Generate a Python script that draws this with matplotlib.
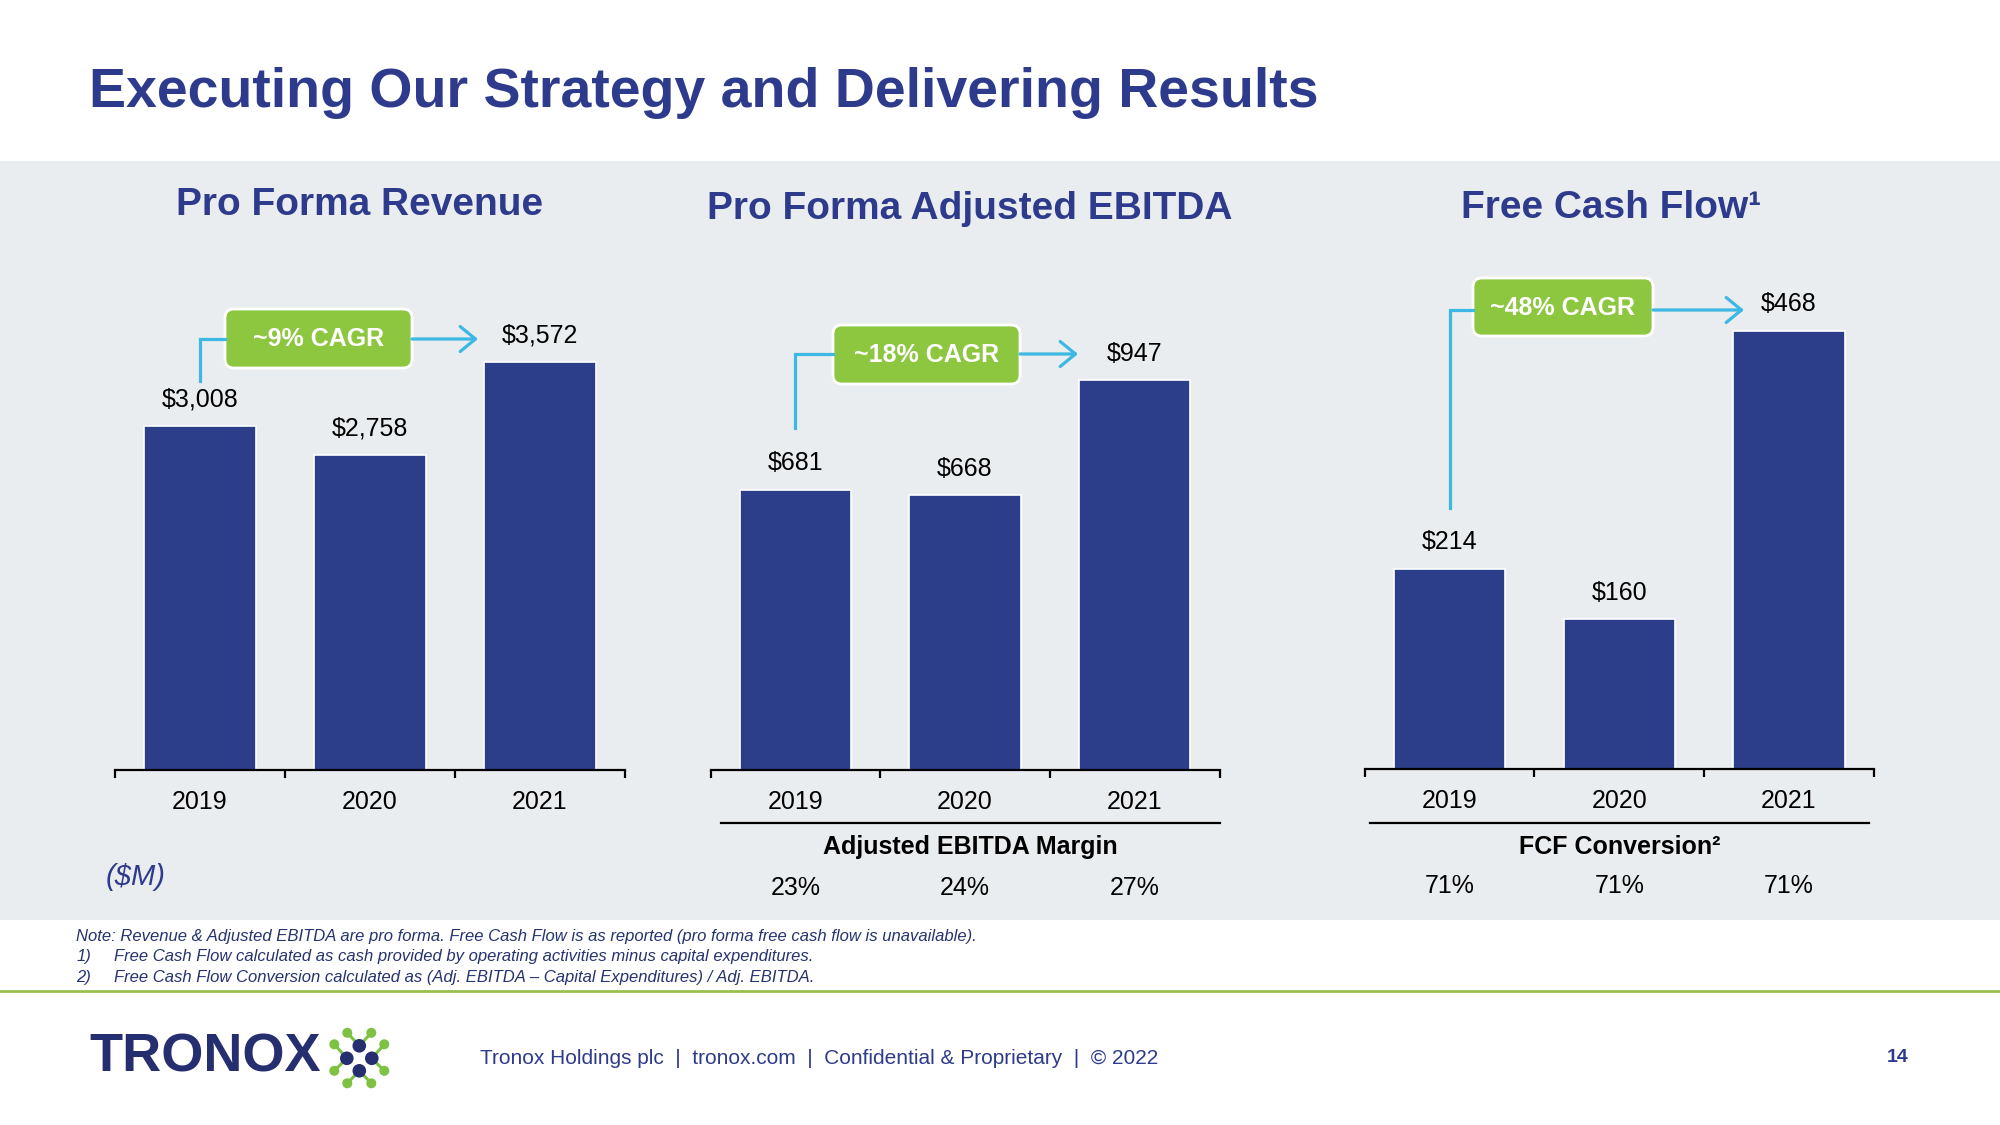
import matplotlib
matplotlib.use("Agg")
import matplotlib.pyplot as plt
from matplotlib.patches import Rectangle, FancyBboxPatch, Circle

plt.rcParams["font.family"] = ["Liberation Sans", "DejaVu Sans"]

# data
years = ["2019", "2020", "2021"]
revenue = [3008, 2758, 3572]
ebitda = [681, 668, 947]
fcf = [214, 160, 468]
ebitda_margin = ["23%", "24%", "27%"]
fcf_conversion = ["71%", "71%", "71%"]
cagr_labels = ["~9% CAGR", "~18% CAGR", "~48% CAGR"]
panel_titles = ["Pro Forma Revenue", "Pro Forma Adjusted EBITDA", "Free Cash Flow\u00b9"]

NAVY = "#2C3E8A"
TITLE = "#2E3B8C"
GREEN = "#8DC63F"
CYAN = "#3DB7E4"
GRAY = "#EAEDEF"

W, H = 2000, 1125
fig = plt.figure(figsize=(20, 11.25), dpi=100)

# background / overlay axes in pixel coordinates
bg = fig.add_axes([0, 0, 1, 1], zorder=0)
bg.set_xlim(0, W)
bg.set_ylim(H, 0)
bg.axis("off")
bg.add_patch(Rectangle((0, 161), W, 759, color=GRAY, lw=0))
bg.plot([0, W], [991, 991], color="#99BF4C", lw=2)

# panel axes: left px, width px, baseline px, ylim top
panels = [
    (114.8, 510.2, 770.4, 4500, revenue),
    (710.5, 509.0, 770.4, 1250, ebitda),
    (1364.8, 509.0, 769.0, 550, fcf),
]
AX_H = 515.0
axes = []
for left, width, base, ytop, vals in panels:
    ax = fig.add_axes([left / W, (H - base) / H, width / W, AX_H / H], zorder=1)
    ax.patch.set_alpha(0)
    x = range(len(years))
    ax.bar(x, vals, width=0.655, color=NAVY, edgecolor="white", linewidth=1.2)
    ax.set_xlim(-0.5, 2.5)
    ax.set_ylim(0, ytop)
    for s in ["top", "left", "right"]:
        ax.spines[s].set_visible(False)
    ax.spines["bottom"].set_linewidth(1.6)
    ax.set_yticks([])
    ax.set_xticks([-0.5, 0.5, 1.5, 2.5])
    ax.set_xticklabels([])
    ax.tick_params(axis="x", length=5.5, width=1.6, direction="out")
    for i, v in enumerate(vals):
        ax.annotate(f"${v:,}", xy=(i, v), xytext=(0, 19), textcoords="offset points",
                    ha="center", va="center", fontsize=18, color="black")
        ax.annotate(years[i], xy=(i, 0), xytext=(0, -23), textcoords="offset points",
                    ha="center", va="center", fontsize=18, color="black")
    axes.append(ax)

# lines and rows under panels 2 and 3
for ax, head, row, x0, x1 in [
    (axes[1], "Adjusted EBITDA Margin", ebitda_margin, 720.5, 1219.5),
    (axes[2], "FCF Conversion\u00b2", fcf_conversion, 1370, 1869),
]:
    bg.plot([x0, x1], [823, 823], color="black", lw=1.6, zorder=2)
    bg.text((x0 + x1) / 2, 847, head, ha="center", va="center", fontsize=18,
            fontweight="bold", color="black")
    for i, t in enumerate(row):
        ax.annotate(t, xy=(i, 0), xytext=(0, -84.5), textcoords="offset points",
                    ha="center", va="center", fontsize=18, color="black")

ov = fig.add_axes([0, 0, 1, 1], zorder=2)
ov.set_xlim(0, W)
ov.set_ylim(H, 0)
ov.axis("off")

# CAGR boxes: box x0, x1, y0, y1, arrow y, connector bottom, arrow tip
boxes = [
    (225, 412, 309, 368, 339, 381, 478),
    (833, 1020, 325, 384, 354, 428, 1078),
    (1473, 1653, 278, 336, 310, 508, 1744),
]
for (left, width, base, _, _), (bx0, bx1, by0, by1, ay, cb, tip), lab in zip(panels, boxes, cagr_labels):
    xc = left + width / 6
    ov.plot([xc, xc, bx0], [cb, ay, ay], color=CYAN, lw=2.3, solid_joinstyle="miter")
    ov.annotate("", xy=(tip, ay), xytext=(bx1, ay),
                arrowprops=dict(arrowstyle="->,head_length=0.55,head_width=0.45",
                                color=CYAN, lw=2.3, shrinkA=0, shrinkB=0, mutation_scale=20))
    ov.add_patch(FancyBboxPatch((bx0, by0), bx1 - bx0, by1 - by0,
                                boxstyle="round,pad=0,rounding_size=9",
                                facecolor=GREEN, edgecolor="white", lw=2))
    ov.text((bx0 + bx1) / 2, (by0 + by1) / 2 + 1, lab, ha="center", va="center",
            fontsize=18, fontweight="bold", color="white")

# titles
ov.text(89, 107, "Executing Our Strategy and Delivering Results", ha="left", va="baseline",
        fontsize=40, fontweight="bold", color=TITLE)
for (left, width, base, _, _), t, yb, dx in zip(panels, panel_titles, [215, 219, 218], [-10, 5, -8]):
    ov.text(left + width / 2 + dx, yb, t, ha="center", va="baseline", fontsize=28,
            fontweight="bold", color=TITLE)

ov.text(106, 877, "($M)", ha="left", va="center", fontsize=21, style="italic", color=TITLE)

# notes
notes = [
    (76.5, "Note: Revenue & Adjusted EBITDA are pro forma. Free Cash Flow is as reported (pro forma free cash flow is unavailable)."),
    (113.5, "Free Cash Flow calculated as cash provided by operating activities minus capital expenditures."),
    (113.5, "Free Cash Flow Conversion calculated as (Adj. EBITDA \u2013 Capital Expenditures) / Adj. EBITDA."),
]
for k, (nx, t) in enumerate(notes):
    y = 936 + k * 20.6
    ov.text(nx, y, t, ha="left", va="center", fontsize=12, style="italic", color="#26336E")
    if k > 0:
        ov.text(76.5, y, f"{k})", ha="left", va="center", fontsize=12, style="italic", color="#26336E")

# footer
ov.text(89, 1058, "TRONOX", ha="left", va="center", fontsize=39, fontweight="bold", color="#252E6E")
cx, cy = 359.3, 1058.3
navy_pts = [(0, -12.5), (-12.5, 0), (12.5, 0), (0, 12.5)]
green_pts = [[(-12, -25.5), (12, -25.5)], [(-25, -14), (-25, 12.5)],
             [(25, -14), (25, 12.5)], [(-12, 25), (12, 25)]]
for (nx, ny), gs in zip(navy_pts, green_pts):
    for gx, gy in gs:
        ov.plot([cx + nx, cx + gx], [cy + ny, cy + gy], color="#7DC242", lw=2.2)
        ov.add_patch(Circle((cx + gx, cy + gy), 5, color="#7DC242", lw=0))
for nx, ny in navy_pts:
    ov.add_patch(Circle((cx + nx, cy + ny), 6.8, color="#252E6E", lw=0, zorder=5))

ov.text(479.6, 1058, "Tronox Holdings plc  |  tronox.com  |  Confidential & Proprietary  |  \u00a9 2022",
        ha="left", va="center", fontsize=15, color=TITLE)
ov.text(1898, 1058, "14", ha="center", va="center", fontsize=14, fontweight="bold", color=TITLE)

fig.savefig("out.png", dpi=100, facecolor="white")
